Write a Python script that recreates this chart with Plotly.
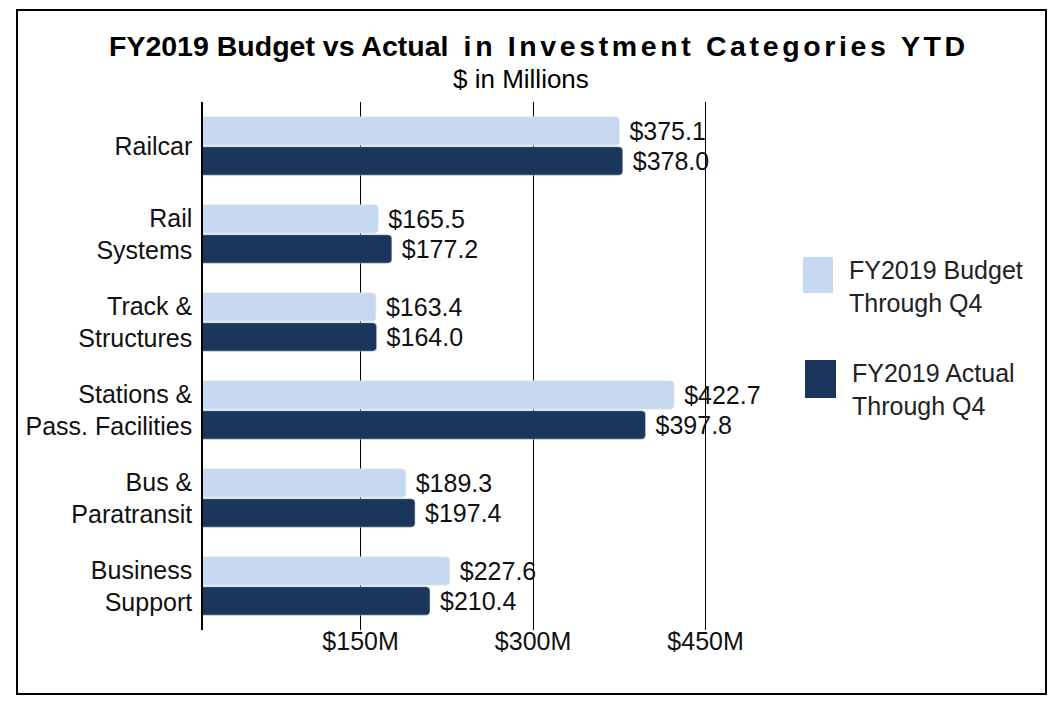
import plotly.graph_objects as go

categories = ["Railcar", "Rail<br>Systems", "Track &<br>Structures", "Stations &<br>Pass. Facilities",
              "Bus &<br>Paratransit", "Business<br>Support"]
budget = [375.1, 165.5, 163.4, 422.7, 189.3, 227.6]
actual = [378.0, 177.2, 164.0, 397.8, 197.4, 210.4]
tick_vals = [150, 300, 450]
tick_text = ["$150M", "$300M", "$450M"]
series_names = ["FY2019 Budget<br>Through Q4", "FY2019 Actual<br>Through Q4"]

LIGHT = "#C6D8F0"
DARK = "#1A365D"
FONT = "Liberation Sans, Arial, sans-serif"

W, H = 1057, 702
OFF = 8  # page body margin offset
# plot area in reference pixel coordinates
L, R, T, B = 203, 770, 102, 630


def px(x):
    return (x - L) / (R - L)


def py(y):
    return (B - y) / (B - T)


fig = go.Figure()
fig.add_trace(go.Bar(y=categories, x=budget, orientation="h", name=series_names[0],
                     marker=dict(color=LIGHT, cornerradius=4),
                     texttemplate="\u00a0$%{x:.1f}", textposition="outside",
                     textfont=dict(size=25, color="#111"), cliponaxis=False))
fig.add_trace(go.Bar(y=categories, x=actual, orientation="h", name=series_names[1],
                     marker=dict(color=DARK, cornerradius=4),
                     texttemplate="\u00a0$%{x:.1f}", textposition="outside",
                     textfont=dict(size=25, color="#111"), cliponaxis=False))

fig.update_layout(
    width=W, height=H,
    margin=dict(l=L - OFF, r=W - (R - OFF), t=T - OFF, b=H - (B - OFF), autoexpand=False),
    paper_bgcolor="white", plot_bgcolor="white",
    font=dict(family=FONT, color="#111"),
    barmode="group", bargap=0.32, bargroupgap=0.05,
    showlegend=False,
    xaxis=dict(range=[13, 506], tickvals=tick_vals, ticktext=tick_text,
               showgrid=True, gridcolor="black", gridwidth=1.3,
               zeroline=False, showline=False, ticks="",
               tickfont=dict(size=25)),
    yaxis=dict(autorange="reversed", showline=True, linecolor="black", linewidth=1.5,
               ticks="", showgrid=False, tickfont=dict(size=25), ticklabelstandoff=4),
)
try:
    fig.update_xaxes(ticklabelstandoff=-6)
except ValueError:
    pass

gap = '<span style="font-size:18px">\u2009</span>'
spaced = gap.join(list("in Investment Categories YTD"))
fig.add_annotation(xref="paper", yref="paper", x=px(537), y=py(46),
                   text="<b>FY2019 Budget vs Actual " + gap + gap + spaced + "</b>",
                   showarrow=False, font=dict(size=28.5, color="black"),
                   xanchor="center", yanchor="middle")
fig.add_annotation(xref="paper", yref="paper", x=px(521), y=py(79),
                   text="$ in Millions", showarrow=False,
                   font=dict(size=26, color="black"), xanchor="center", yanchor="middle")

# legend (manual, large swatches)
fig.add_shape(type="rect", xref="paper", yref="paper", x0=px(803), x1=px(833), y0=py(293), y1=py(257),
              fillcolor=LIGHT, line=dict(width=0))
fig.add_shape(type="rect", xref="paper", yref="paper", x0=px(805), x1=px(836), y0=py(398), y1=py(360),
              fillcolor=DARK, line=dict(width=0))
fig.add_annotation(xref="paper", yref="paper", x=px(847), y=py(286), text=series_names[0],
                   showarrow=False, align="left", xanchor="left", yanchor="middle",
                   font=dict(size=25, color="#222"))
fig.add_annotation(xref="paper", yref="paper", x=px(850), y=py(389), text=series_names[1],
                   showarrow=False, align="left", xanchor="left", yanchor="middle",
                   font=dict(size=25, color="#222"))

# outer frame
fig.add_shape(type="rect", xref="paper", yref="paper", x0=px(17), x1=px(1046), y0=py(694), y1=py(10),
              line=dict(color="black", width=2), fillcolor="rgba(0,0,0,0)", layer="above")

fig.write_html("out.html")
